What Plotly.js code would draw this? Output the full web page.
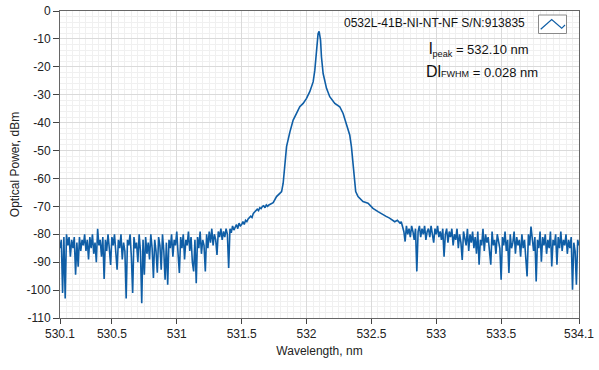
<!DOCTYPE html>
<html><head><meta charset="utf-8">
<script src="https://cdn.plot.ly/plotly-3.0.1.min.js"></script>
<style>html,body{margin:0;padding:0;background:#fff}#chart{width:599px;height:370px}</style>
</head><body><div id="chart"></div>
<script>
// ---- data ----
const leftStart = 530.10;   // first sample of left noise floor (nm)
const sampleStep = 0.01;    // spectrometer sampling step (nm)
const leftPower = [
 -85,-82,-101,-81,-103,-80,-84,-81,-88,-82,
 -85,-81,-94.5,-83,-91.6,-81,-86,-82,-84,-80,
 -86,-82,-89,-81,-85,-80,-87,-83,-90,-78,
 -84,-82,-88,-81,-96,-82,-86,-80,-85,-91,
 -81,-84,-80,-87,-92.7,-82,-85,-80,-89,-83,
 -86,-103,-82,-84,-80,-88,-101,-81,-85,-83,
 -90,-80,-86,-104.7,-82,-94.5,-81,-87,-83,-89,
 -80,-85,-95.7,-82,-86,-93.8,-81,-84,-92.7,-80,
 -86,-96.3,-83,-98.1,-82,-85,-80,-88,-82,-84,
 -79,-87,-93.9,-81,-85,-80,-89,-82,-84,-79,
 -86,-81,-90,-93.3,-82,-97.5,-81,-85,-79,-87,
 -82,-84,-93.3,-80,-85,-79,-83,-78,-84,-80,
 -82,-87.4,-79,-81,-78,-82,-79,-81,-78,-80,
 -92.1,-78,-79.5,-77,-78.5,-77.5,-76.5,-78,-76,-77,
 -76.5,-75.5,-76.5,-75,-75.5,-74.5,-74,-73.5,-74,-72.5,
 -72,-71.5,-71,-71.5,-70.5,-70.8,-70,-69.8,-70.5,-69.5,
 -70,-69.5
];
const peakWavelength = [531.743,531.769,531.808,531.820,531.833,531.846,531.872,531.897,531.923,531.948,
 531.974,532.000,532.025,532.051,532.064,532.077,532.089,532.097,532.108,532.115,
 532.128,532.154,532.179,532.218,532.256,532.282,532.308,532.333,532.346,532.358,
 532.372,532.379,532.397,532.435,532.474,532.512,532.551,532.58,532.61,532.64,
 532.66,532.68,532.70,532.72,532.73,532.74];
const peakPower = [-68.7,-66.5,-64.7,-61.7,-53.4,-48.6,-43.3,-39.1,-36.7,-34.3,
 -33.1,-31.3,-28.9,-25.4,-21.2,-15.2,-8.1,-7.3,-10.4,-16.4,
 -22.4,-27.7,-30.7,-33.1,-34.3,-36.7,-40.3,-44.4,-48.6,-54.6,
 -60.5,-64.7,-66.5,-68.3,-68.9,-70.7,-71.9,-72.8,-73.5,-74.2,
 -74.8,-75.5,-75,-76,-75.5,-77];
const rightStart = 532.75;
const rightPower = [
 -79,-82.6,-77,-80,-78,-81,-77,-79,-82,-78,
 -93.3,-79,-77,-81,-78,-80,-77,-82,-79,-78,
 -81,-77,-80,-83,-78,-80,-77,-81,-79,-82,
 -78,-88,-80,-78,-83,-79,-81,-78,-84,-80,
 -82,-78,-85,-80,-83,-89.2,-79,-82,-84,-78,
 -86,-80,-83,-79,-85,-81,-87,-79,-90.9,-82,
 -84,-78,-86,-80,-83,-81,-85,-90.9,-79,-84,
 -82,-87,-80,-83,-85,-96.3,-81,-84,-79,-86,
 -82,-93.9,-80,-85,-83,-79,-87,-81,-84,-82,
 -88,-80,-85,-82,-90,-95.1,-80,-84,-77.2,-83,
 -86,-81,-96.9,-82,-85,-79,-89.8,-81,-84,-80,
 -87,-82,-85,-79,-91.5,-82,-84,-80,-90.9,-81,
 -85,-79,-86,-82,-84,-80,-87,-82,-85,-81,
 -99.9,-83,-86,-98.1,-82,-84
];
const xTickVals = [530.1,530.5,531,531.5,532,532.5,533,533.5,534.1];
const xTickText = ['530.1','530.5','531','531.5','532','532.5','533','533.5','534.1'];
const xUnlabeledTick = [534];
const yTickVals = [0,-10,-20,-30,-40,-50,-60,-70,-80,-90,-100,-110];
const yTickText = ['0','-10','-20','-30','-40','-50','-60','-70','-80','-90','-100','-110'];
const seriesName = '0532L-41B-NI-NT-NF S/N:913835';
const peakLabel = '<span style="font-size:16px">l</span><sub>peak</sub> = 532.10 nm';
const fwhmLabel = '<span style="font-size:16px">Dl</span><span style="font-size:9px">FWHM</span> = 0.028 nm';

// ---- build series ----
const xs = [], ys = [];
leftPower.forEach((v,i)=>{ xs.push(+(leftStart + i*sampleStep).toFixed(3)); ys.push(v); });
peakWavelength.forEach((w,i)=>{ xs.push(w); ys.push(peakPower[i]); });
rightPower.forEach((v,i)=>{ xs.push(+(rightStart + i*sampleStep).toFixed(3)); ys.push(v); });

// ---- layout geometry ----
const W = 599, H = 370, M = {l:60, r:20, t:11, b:52};
const PW = W - M.l - M.r, PH = H - M.t - M.b;
const px = x => (x - M.l) / PW;
const py = y => (M.t + PH - y) / PH;
const FONT = 'Liberation Sans, Arial, sans-serif';
const LINE_BLUE = '#0f5ea6';

const trace = {x: xs, y: ys, type: 'scatter', mode: 'lines', name: seriesName,
  line: {color: LINE_BLUE, width: 1.6}, showlegend: false, hoverinfo: 'skip'};

const layout = {
  width: W, height: H, margin: M, paper_bgcolor: '#fff', plot_bgcolor: '#fff',
  font: {family: FONT, size: 12, color: '#222'},
  showlegend: false,
  xaxis: {range: [530.1, 534.1], tickvals: xTickVals, ticktext: xTickText,
    ticks: 'outside', ticklen: 5, tickcolor: '#444', tickwidth: 1,
    showline: true, linecolor: '#666', linewidth: 1, mirror: true,
    showgrid: true, gridcolor: '#dadada', gridwidth: 1, zeroline: false,
    tickfont: {size: 12, color: '#222', family: FONT},
    minor: {dtick: 0.05, tick0: 530, showgrid: true, gridcolor: '#f0f0f0', gridwidth: 1, ticks: ''},
    title: {text: 'Wavelength, nm', font: {size: 12, color: '#222', family: FONT}, standoff: 6}},
  xaxis2: {overlaying: 'x', anchor: 'y', side: 'bottom', range: [530.1, 534.1],
    tickvals: xUnlabeledTick, showticklabels: false,
    ticks: 'outside', ticklen: 5, tickcolor: '#444', tickwidth: 1,
    showline: false, showgrid: true, gridcolor: '#dadada', gridwidth: 1, zeroline: false},
  yaxis: {range: [-110, 0], tickvals: yTickVals, ticktext: yTickText,
    ticks: 'outside', ticklen: 6, tickcolor: '#444', tickwidth: 1,
    showline: true, linecolor: '#666', linewidth: 1, mirror: true,
    showgrid: true, gridcolor: '#dadada', gridwidth: 1, zeroline: false,
    tickfont: {size: 12, color: '#222', family: FONT},
    minor: {dtick: 2, tick0: 0, showgrid: true, gridcolor: '#f0f0f0', gridwidth: 1, ticks: ''},
    title: {text: 'Optical Power, dBm', font: {size: 12, color: '#222', family: FONT}, standoff: 4}},
  annotations: [
    {text: seriesName, xref: 'paper', yref: 'paper', x: px(527), y: py(23.3),
     xanchor: 'right', yanchor: 'middle', showarrow: false, font: {size: 12, color: '#111', family: FONT}},
    {text: peakLabel, xref: 'paper', yref: 'paper', x: px(427), y: py(49),
     xanchor: 'left', yanchor: 'middle', showarrow: false, font: {size: 13, color: '#111', family: FONT}},
    {text: fwhmLabel, xref: 'paper', yref: 'paper', x: px(424), y: py(71),
     xanchor: 'left', yanchor: 'middle', showarrow: false, font: {size: 13, color: '#111', family: FONT}}
  ],
  shapes: [
    {type: 'rect', xref: 'paper', yref: 'paper', x0: px(538.5), x1: px(566.5), y0: py(33.5), y1: py(15),
     line: {color: '#8a8a8a', width: 1}, fillcolor: '#fff', layer: 'above'},
    {type: 'path', xref: 'paper', yref: 'paper', layer: 'above',
     path: `M ${px(540.7)} ${py(29.3)} L ${px(551.7)} ${py(19.5)} L ${px(561.7)} ${py(28.3)} L ${px(565)} ${py(25)}`,
     line: {color: LINE_BLUE, width: 1.2}}
  ]
};
Plotly.newPlot('chart', [trace], layout, {displayModeBar: false, staticPlot: true});
</script></body></html>
